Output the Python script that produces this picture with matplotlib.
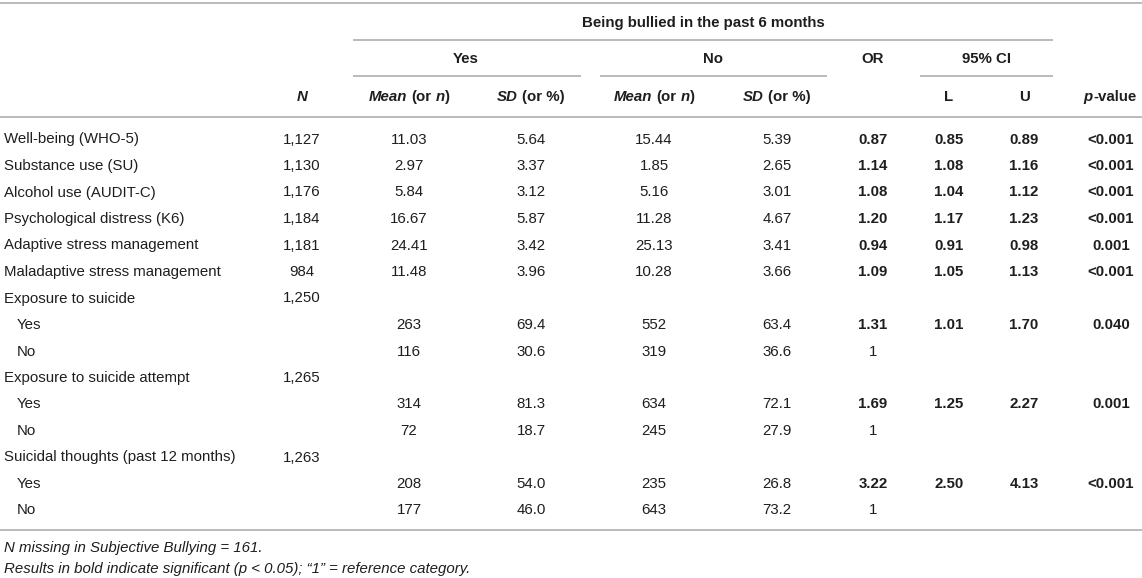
import numpy as np
import matplotlib
matplotlib.use("Agg")
import matplotlib.pyplot as plt

plt.rcParams['font.family'] = ['Liberation Sans', 'DejaVu Sans']

# --- table data ---
labels = ["Well-being (WHO-5)", "Substance use (SU)", "Alcohol use (AUDIT-C)",
          "Psychological distress (K6)", "Adaptive stress management",
          "Maladaptive stress management", "Exposure to suicide", "Yes", "No",
          "Exposure to suicide attempt", "Yes", "No",
          "Suicidal thoughts (past 12 months)", "Yes", "No"]
indented = [0, 0, 0, 0, 0, 0, 0, 1, 1, 0, 1, 1, 0, 1, 1]
n_total = ["1,127", "1,130", "1,176", "1,184", "1,181", "984", "1,250", "", "",
           "1,265", "", "", "1,263", "", ""]
yes_mean = ["11.03", "2.97", "5.84", "16.67", "24.41", "11.48", "", "263", "116",
            "", "314", "72", "", "208", "177"]
yes_sd = ["5.64", "3.37", "3.12", "5.87", "3.42", "3.96", "", "69.4", "30.6",
          "", "81.3", "18.7", "", "54.0", "46.0"]
no_mean = ["15.44", "1.85", "5.16", "11.28", "25.13", "10.28", "", "552", "319",
           "", "634", "245", "", "235", "643"]
no_sd = ["5.39", "2.65", "3.01", "4.67", "3.41", "3.66", "", "63.4", "36.6",
         "", "72.1", "27.9", "", "26.8", "73.2"]
odds = ["0.87", "1.14", "1.08", "1.20", "0.94", "1.09", "", "1.31", "1",
        "", "1.69", "1", "", "3.22", "1"]
ci_low = ["0.85", "1.08", "1.04", "1.17", "0.91", "1.05", "", "1.01", "",
          "", "1.25", "", "", "2.50", ""]
ci_up = ["0.89", "1.16", "1.12", "1.23", "0.98", "1.13", "", "1.70", "",
         "", "2.27", "", "", "4.13", ""]
p_val = ["<0.001", "<0.001", "<0.001", "<0.001", "0.001", "<0.001", "", "0.040", "",
         "", "0.001", "", "", "<0.001", ""]

footnotes = ["N missing in Subjective Bullying = 161.",
             "Results in bold indicate significant (p < 0.05); \u201c1\u201d = reference category."]

TXT = "#1e1e1e"
RULE = "#b4b4b4"
FS = 10.8

fig = plt.figure(figsize=(11.42, 5.78), dpi=100)
ax = fig.add_axes([0, 0, 1, 1])
ax.set_xlim(0, 1142)
ax.set_ylim(578, 0)
ax.axis('off')
renderer = fig.canvas.get_renderer()


def rich(x, y, parts, gap=4.2):
    """draw text pieces with mixed styles, centred on x"""
    objs = []
    for txt, style, space in parts:
        t = ax.text(0, y, txt, fontsize=FS, color=TXT, fontweight='bold',
                    fontstyle=style, ha='left', va='center')
        objs.append((t, space))
    widths = [t.get_window_extent(renderer).width for t, _ in objs]
    total = sum(widths) + sum(gap for _, s in objs if s)
    cur = x - total / 2
    for (t, space), w in zip(objs, widths):
        if space:
            cur += gap
        t.set_x(cur)
        cur += w


# header rules
ax.hlines(3, 0, 1142, color=RULE, lw=1.3)
ax.hlines(40, 353, 1053, color=RULE, lw=1.3)
ax.hlines(76, 353, 581, color=RULE, lw=1.3)
ax.hlines(76, 600, 827, color=RULE, lw=1.3)
ax.hlines(76, 920, 1053, color=RULE, lw=1.3)
ax.hlines(117, 0, 1142, color=RULE, lw=1.3)
ax.hlines(530, 0, 1142, color=RULE, lw=1.3)

hb = dict(fontsize=FS, color=TXT, fontweight='bold', ha='center', va='center')
ax.text(703, 23, "Being bullied in the past 6 months", **hb)
ax.text(466, 59, "Yes", **hb)
ax.text(713, 59, "No", **hb)
ax.text(873, 59, "OR", **hb)
ax.text(986, 59, "95% CI", **hb)
ax.text(949, 97, "L", **hb)
ax.text(1024, 97, "U", **hb)
rich(302, 97, [("N", 'italic', False)])
for cx in (409, 654):
    rich(cx, 97, [("Mean", 'italic', False), ("(or", 'normal', True),
                  ("n", 'italic', True), (")", 'normal', False)])
for cx in (531, 777):
    rich(cx, 97, [("SD", 'italic', False), ("(or %)", 'normal', True)])
rich(1110, 97, [("p", 'italic', False), ("-value", 'normal', False)], gap=0)

# body
row_y = 139.5 + 26.5 * np.arange(len(labels))
plain_cols = [(302, n_total), (409, yes_mean), (531, yes_sd), (654, no_mean), (777, no_sd)]
bold_cols = [(873, odds), (949, ci_low), (1024, ci_up), (1111, p_val)]

for i, y in enumerate(row_y):
    ax.text(17 if indented[i] else 4, y, labels[i], fontsize=FS, color=TXT,
            ha='left', va='center')
    for cx, col in plain_cols:
        if col[i]:
            ax.text(cx, y, col[i], fontsize=FS, color=TXT, ha='center', va='center')
    for cx, col in bold_cols:
        if col[i]:
            w = 'normal' if col[i] == "1" else 'bold'
            ax.text(cx, y, col[i], fontsize=FS, color=TXT, fontweight=w,
                    ha='center', va='center')

for k, note in enumerate(footnotes):
    ax.text(4, 548 + 21 * k, note, fontsize=FS, color=TXT, fontstyle='italic',
            ha='left', va='center')

fig.savefig("out.png", dpi=100)
